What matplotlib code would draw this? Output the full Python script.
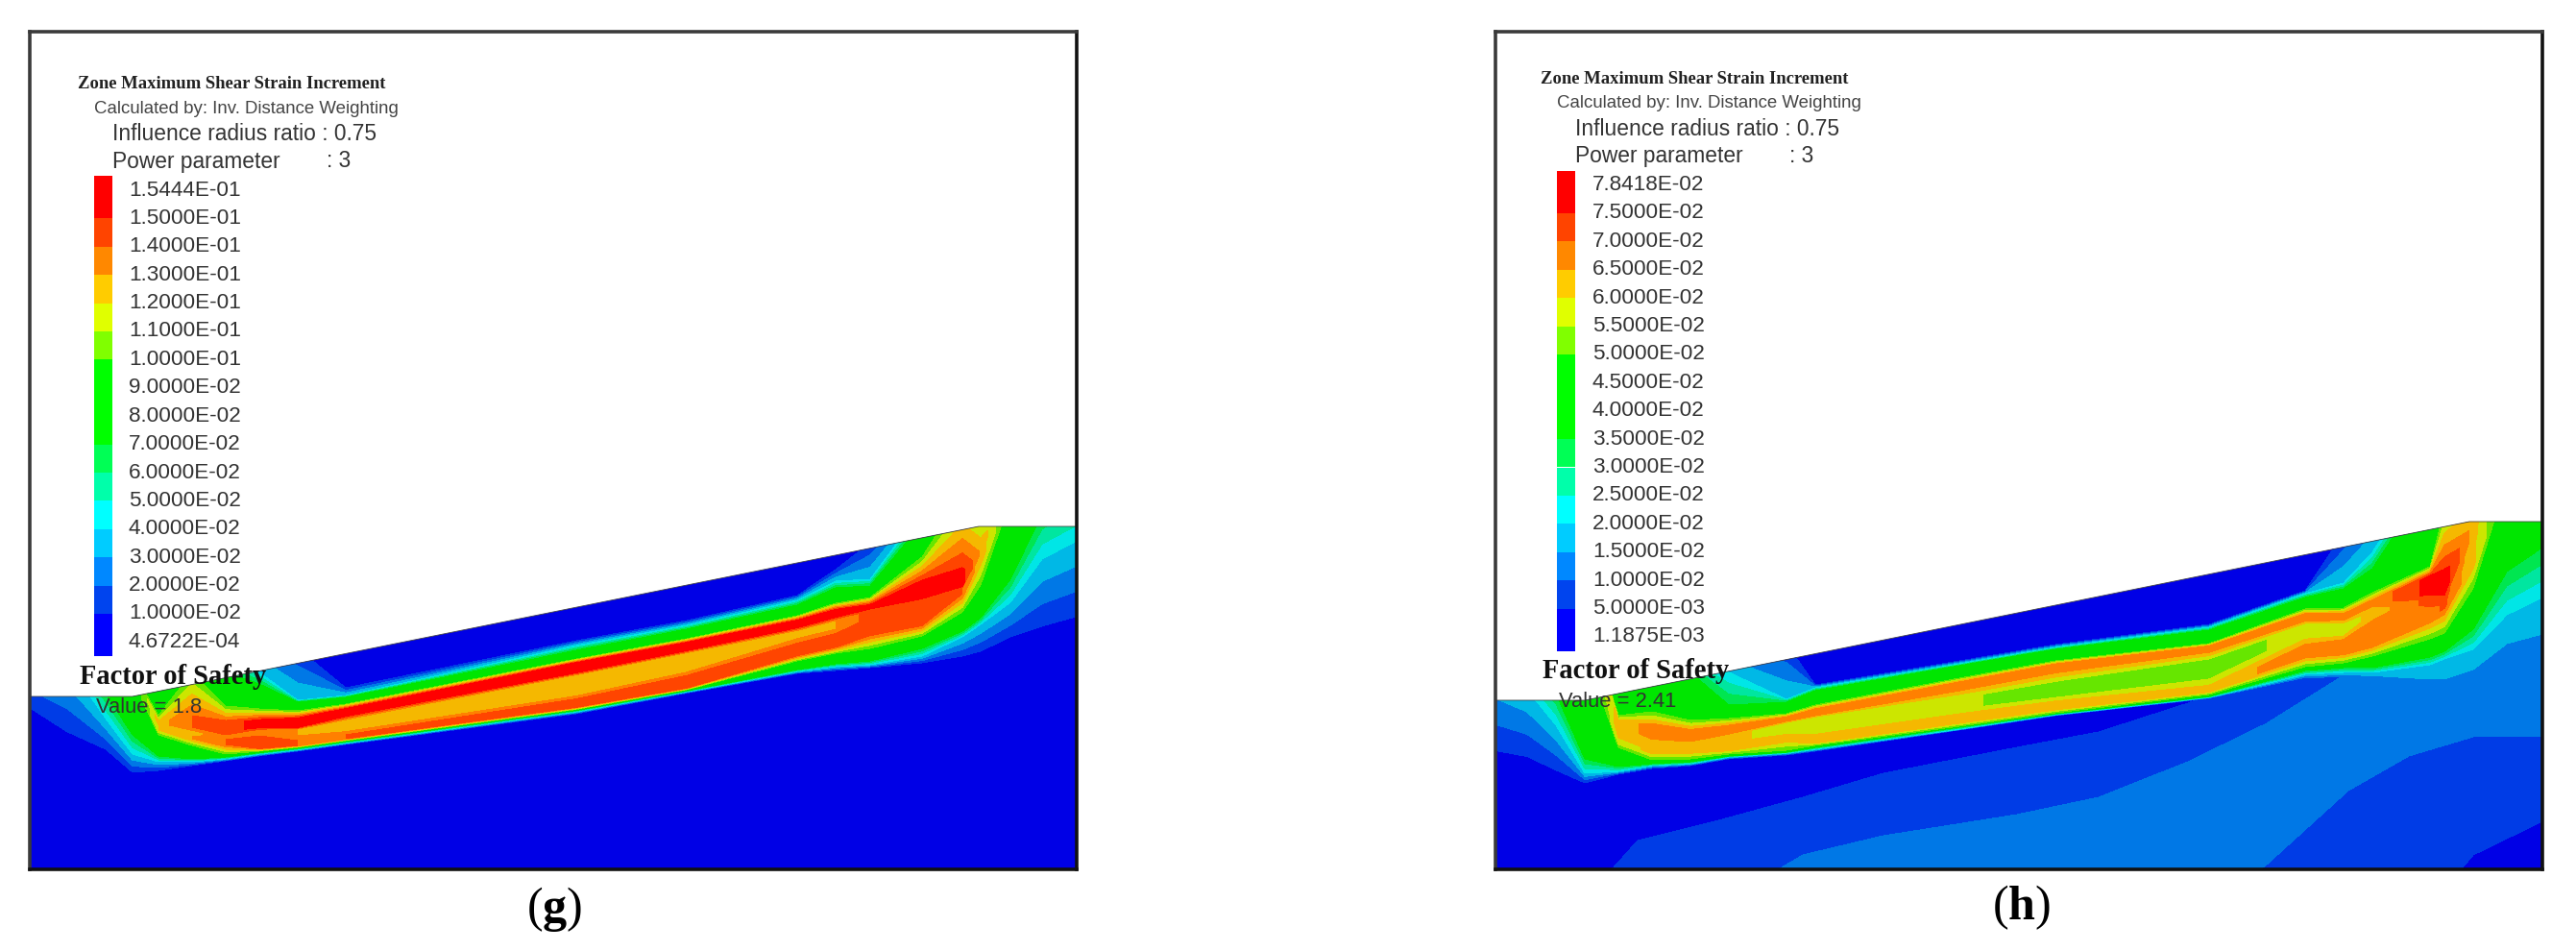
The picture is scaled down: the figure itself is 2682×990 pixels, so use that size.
import numpy as np
import matplotlib
matplotlib.use('Agg')
import matplotlib.pyplot as plt
from matplotlib.patches import Polygon

plt.rcParams['font.family'] = 'Liberation Sans'
plt.rcParams['mathtext.fontset'] = 'custom'
plt.rcParams['mathtext.rm'] = 'Liberation Serif'
plt.rcParams['mathtext.bf'] = 'Liberation Serif:bold'

W, H = 2682, 990

# colours of the strain bands, low to high
field_colors = ['#0000e6', '#003ce6', '#0078e6', '#00b8e6', '#00e6e6', '#00e6a0', '#00e650',
                '#00e600', '#00e600', '#00e600', '#66e600', '#cce600', '#f5b800', '#ff8000',
                '#ff4500', '#ff0000']
bar_colors = ['#0000ff', '#0044ee', '#0088ff', '#00ccff', '#00ffff', '#00ffaa', '#00ff55',
              '#00ff00', '#00ff00', '#00ff00', '#80ff00', '#e0ff00', '#ffcc00', '#ff8800',
              '#ff4400', '#ff0000']

# ---- panel g, strain in units of 1e-2
g_levels = [0.047, 1, 2, 3, 4, 5, 6, 7, 8, 9, 10, 11, 12, 13, 14, 15, 15.44]
g_labels = ['1.5444E-01', '1.5000E-01', '1.4000E-01', '1.3000E-01', '1.2000E-01', '1.1000E-01',
            '1.0000E-01', '9.0000E-02', '8.0000E-02', '7.0000E-02', '6.0000E-02', '5.0000E-02',
            '4.0000E-02', '3.0000E-02', '2.0000E-02', '1.0000E-02', '4.6722E-04']
g_surface_x = [31, 138, 1019, 1121]
g_surface_y = [725, 725, 548, 548]
g_stations = [31, 70, 110, 138, 165, 200, 235, 270, 310, 360, 600, 715, 830, 870, 906, 960, 1002,
              1021, 1052, 1085, 1121]
g_up = [9, 9, 9, 9, 12.5, 14, 14.5, 15.4, 15.4, 15.4, 15.4, 15.4, 15.4, 15.4, 15.4, 15.4, 15.4,
        12.8, 9.5, 9, 9]
g_mid = [9, 9, 9, 9, 12, 12.5, 14, 13.5, 13, 12.5, 12.5, 12.5, 12.6, 13, 14.5, 14.5, 14, 12.5, 9.5, 9, 9]
g_low = [9, 9, 9, 9, 12, 13, 14, 14.5, 14, 14, 14.5, 14.5, 14.5, 14.5, 14.5, 14.5, 14, 12.5, 9.5, 9, 9]
# depth of each strain contour at each station
g_depths = [
    [510, 520, 530, 540, 550, 560, 570, 580, 600, 620, 640, 650, 680, 737],
    [520, 530, 540, 550, 560, 570, 585, 600, 620, 640, 655, 670, 690, 762],
    [540, 560, 600, 660, 665, 668, 672, 675, 680, 685, 690, 722, 748, 780],
    [580, 600, 650, 690, 695, 698, 700, 703, 706, 710, 715, 765, 785, 804],
    [620, 640, 680, 745, 752, 754, 755, 756, 757, 760, 765, 787, 793, 802],
    [640, 660, 680, 700, 745, 757, 762, 765, 767, 769, 776, 790, 793, 797],
    [650, 680, 700, 735, 752, 762, 765, 767, 770, 775, 785, 788, 790, 792],
    [655, 700, 712, 738, 750, 757, 760, 764, 768, 779, 782, 783.5, 785, 787],
    [675, 729, 731, 740, 748, 757, 759, 766, 771, 776, 778, 779, 780.5, 782],
    [716, 724, 726, 733, 738, 745, 750, 760, 765, 769, 771, 772, 773.5, 775],
    [667, 672, 677, 686, 690, 700, 703, 723, 729, 736, 738.5, 739.5, 741, 743],
    [646, 651, 655, 665, 669, 677, 680, 698, 705, 716, 718, 719, 720, 721.5],
    [620, 625, 630, 641, 646, 653, 657, 663, 672, 682, 688, 697, 699, 701],
    [593, 605, 612, 628, 635, 642, 646, 655, 662, 673, 680, 691, 694, 698],
    [565, 603, 610, 622, 630, 633, 635, 645, 650, 660, 675, 688, 692, 695],
    [510, 530, 545, 580, 606, 622, 625, 632, 640, 650, 662, 675, 683, 690],
    [480, 495, 505, 515, 597, 610, 612, 614, 616, 618, 637, 657, 663, 683],
    [470, 485, 500, 530, 572, 576, 578, 580, 582, 584, 609, 643, 650, 678],
    [450, 460, 470, 480, 490, 500, 505, 510, 515, 525, 530, 603, 627, 663],
    [440, 450, 460, 470, 480, 490, 495, 500, 505, 510, 520, 535, 582, 652],
    [430, 440, 450, 460, 470, 480, 485, 490, 495, 498, 500, 515, 563, 642],
]

# ---- panel h
h_levels = [0.119, 0.5, 1, 1.5, 2, 2.5, 3, 3.5, 4, 4.5, 5, 5.5, 6, 6.5, 7, 7.5, 7.84]
h_labels = ['7.8418E-02', '7.5000E-02', '7.0000E-02', '6.5000E-02', '6.0000E-02', '5.5000E-02',
            '5.0000E-02', '4.5000E-02', '4.0000E-02', '3.5000E-02', '3.0000E-02', '2.5000E-02',
            '2.0000E-02', '1.5000E-02', '1.0000E-02', '5.0000E-03', '1.1875E-03']
h_surface_x = [1557, 1650, 2571, 2647]
h_surface_y = [729, 729, 543, 543]
h_stations = [1557, 1590, 1620, 1650, 1685, 1720, 1760, 1800, 1860, 1890, 2040, 2140, 2300, 2400,
              2440, 2470, 2530, 2545, 2575, 2610, 2647]
h_up = [4.5, 4.5, 4.5, 4.5, 6.2, 6.7, 6.9, 6.9, 6.8, 6.9, 6.9, 6.9, 6.8, 6.9, 6.8, 6.6, 7.7, 7.8, 6.3, 4.5, 4.5]
h_mid = [4.5, 4.5, 4.5, 4.5, 6.2, 6.2, 6.5, 6.2, 5.7, 5.7, 5.6, 5.2, 5.2, 5.7, 5.7, 6.2, 7.2, 7.2, 6.2, 4.5, 4.5]
h_low = [4.5, 4.5, 4.5, 4.5, 5.8, 6.1, 6.2, 6.2, 6.3, 6.3, 6.3, 6.3, 6.2, 6.8, 6.8, 6.8, 6.8, 7.1, 6.1, 4.5, 4.5]
h_bottom = [0.49, 0.49, 0.49, 0.49, 0.49, 0.49, 0.49, 0.49, 0.49, 0.49, 0.49, 0.49, 0.49, 0.8, 1.2,
            1.4, 1.5, 1.5, 1.5, 1.5, 1.5]
h_depths = [
    [500, 510, 520, 530, 540, 550, 560, 570, 580, 590, 600, 660, 700, 782],
    [510, 520, 530, 540, 550, 560, 570, 580, 590, 600, 620, 685, 718, 788],
    [520, 530, 540, 550, 560, 570, 580, 590, 600, 610, 650, 722, 755, 802],
    [540, 560, 600, 620, 630, 640, 650, 660, 670, 680, 700, 790, 805, 815],
    [590, 620, 690, 745, 750, 757, 760, 766, 770, 773, 778, 798, 803, 806],
    [610, 650, 680, 741, 755, 768, 772, 778, 781, 784, 791, 795, 797, 800],
    [650, 680, 700, 750, 762, 770, 772, 776, 779, 783, 790, 793, 795, 797],
    [660, 700, 734, 748, 757, 763, 765, 775, 778, 781, 785, 787, 788, 790],
    [670, 728, 731, 743, 747, 750, 753, 761, 768, 770, 781, 783, 784, 786],
    [713, 716, 719, 734, 739, 744, 747, 762, 767, 773, 776, 778, 780, 782],
    [688, 691, 693, 706, 711, 716, 726, 739, 746, 752, 756, 757, 759, 760],
    [671, 674, 676, 688, 692, 697, 712, 724, 732, 738, 742, 743, 744, 745],
    [650, 653, 656, 670, 673, 677, 688, 703, 716, 720, 723, 725, 726, 727],
    [615, 618, 622, 634, 640, 645, 650, 662, 674, 683, 694, 698, 702, 706],
    [555, 607, 613, 633, 640, 644, 650, 660, 668, 680, 690, 695, 700, 704],
    [520, 575, 592, 617, 625, 630, 635, 640, 652, 672, 683, 695, 700, 704],
    [460, 480, 500, 590, 600, 618, 622, 628, 635, 645, 665, 684, 692, 707],
    [455, 470, 500, 530, 600, 617, 622, 625, 628, 632, 659, 678, 686, 707],
    [430, 445, 460, 480, 545, 555, 560, 565, 570, 590, 612, 655, 676, 697],
    [420, 430, 440, 450, 460, 470, 480, 490, 500, 510, 515, 595, 640, 670],
    [410, 420, 430, 440, 450, 460, 470, 480, 490, 495, 500, 570, 622, 660],
]
# slow background strain under the slip band in h
h_base_stations = [1557, 1680, 1705, 1793, 1877, 1961, 2100, 2185, 2278, 2360, 2445, 2508, 2575, 2647]
h_base_values = [0.5, 1, 1.2, 1, 0.5]
h_base_depths = [
    [1000, 1100, 1200, 1300, 1500],
    [903, 1000, 1120, 1250, 1450],
    [875, 980, 1090, 1200, 1400],
    [853, 940, 1050, 1150, 1350],
    [830, 890, 1000, 1100, 1300],
    [805, 870, 960, 1050, 1250],
    [778, 848, 930, 1020, 1220],
    [762, 830, 915, 1000, 1200],
    [732, 793, 880, 960, 1150],
    [700, 753, 830, 900, 1100],
    [680, 700, 760, 823, 1040],
    [670, 680, 735, 787, 970],
    [660, 670, 720, 767, 890],
    [650, 660, 715, 767, 855],
]


def px(n):
    # font size in points for a size in pixels
    return n * 0.72


def panel(frame, surface_x, surface_y, levels, labels, stations, depths, z_rows,
          bar_x, label_x, top_label_y, texts):
    x0, x1, y0, y1 = frame
    ax = fig.add_axes([x0 / W, 1 - y1 / H, (x1 - x0) / W, (y1 - y0) / H])
    ax.set_xlim(x0, x1)
    ax.set_ylim(y1, y0)
    ax.set_xticks([])
    ax.set_yticks([])
    for name, sp in ax.spines.items():
        sp.set_linewidth(2.6)
        sp.set_color('#111111' if name in ('bottom', 'right') else '#3a3a3a')
        sp.set_zorder(10)

    # ground under the slope
    outline = list(zip(surface_x, surface_y)) + [(x1, y1 + 20), (x0, y1 + 20)]
    ground = Polygon(outline, closed=True, transform=ax.transData, fc=field_colors[0], ec='none')
    ax.add_patch(ground)
    ax.plot(surface_x, surface_y, color='#444444', lw=0.6, zorder=4)

    X = np.repeat(np.array(stations)[:, None], np.shape(depths)[1], axis=1)
    cs = ax.contourf(X, np.array(depths), z_rows, levels=levels, colors=field_colors, zorder=3)
    cs.set_clip_path(ground)

    # legend bar, band edges sit on the label centres
    lab_y = [top_label_y + 29.4 * i for i in range(len(labels))]
    for i in range(16):
        top = lab_y[i] - 15 if i == 0 else lab_y[i]
        bottom = lab_y[i + 1] + 15 if i == 15 else lab_y[i + 1]
        ax.bar(bar_x, bottom - top, bottom=top, width=19, color=bar_colors[15 - i], zorder=5)
    for lab, y in zip(labels, lab_y):
        ax.text(label_x, y, lab, fontsize=px(22.5), color='#333333', va='center', zorder=6)

    for (x, y, s, size, fam, weight, col) in texts:
        ax.text(x, y, s, fontsize=px(size), family=fam, weight=weight, color=col,
                va='center', zorder=7, clip_on=False)
    return ax


fig = plt.figure(figsize=(W / 100, H / 100), dpi=100, facecolor='white')

SANS = 'Liberation Sans'
SERIF = 'Liberation Serif'

# panel g
z_g = np.array([[0.99, 4, 7, 10, u, u, m, m, l, l, 10, 7, 4, 0.99]
                for u, m, l in zip(g_up, g_mid, g_low)])
panel((31, 1121, 33, 905), g_surface_x, g_surface_y, g_levels, g_labels, g_stations, g_depths, z_g,
      107.5, 134, 198,
      [(81, 88, 'Zone Maximum Shear Strain Increment', 18.7, SERIF, 'bold', '#222222'),
       (98, 113, 'Calculated by: Inv. Distance Weighting', 18.7, SANS, 'normal', '#444444'),
       (117, 140, 'Influence radius ratio : 0.75', 22.8, SANS, 'normal', '#333333'),
       (117, 168, 'Power parameter', 22.8, SANS, 'normal', '#333333'),
       (340, 168, ': 3', 22.8, SANS, 'normal', '#333333'),
       (83, 705, 'Factor of Safety', 28.5, SERIF, 'bold', '#111111'),
       (99.5, 737, 'Value = 1.8', 22, SANS, 'normal', '#333333')])

# panel h, with the background strain drawn before the slip band
z_h = np.array([[0.49, 2, 3.5, 5, u, u, m, m, l, l, 5, 3.5, 2, b]
                for u, m, l, b in zip(h_up, h_mid, h_low, h_bottom)])
ax_h = panel((1557, 2647, 33, 905), h_surface_x, h_surface_y, h_levels, h_labels, h_stations, h_depths, z_h,
             1631, 1658, 192.5,
             [(1604, 82.5, 'Zone Maximum Shear Strain Increment', 18.7, SERIF, 'bold', '#222222'),
              (1621, 107.5, 'Calculated by: Inv. Distance Weighting', 18.7, SANS, 'normal', '#444444'),
              (1640, 134.5, 'Influence radius ratio : 0.75', 22.8, SANS, 'normal', '#333333'),
              (1640, 162.5, 'Power parameter', 22.8, SANS, 'normal', '#333333'),
              (1863, 162.5, ': 3', 22.8, SANS, 'normal', '#333333'),
              (1606, 698, 'Factor of Safety', 28.5, SERIF, 'bold', '#111111'),
              (1623.5, 731, 'Value = 2.41', 22, SANS, 'normal', '#333333')])
base_X = np.repeat(np.array(h_base_stations)[:, None], len(h_base_values), axis=1)
base_Z = np.tile(h_base_values, (len(h_base_stations), 1))
base = ax_h.contourf(base_X, np.array(h_base_depths), base_Z, levels=h_levels, colors=field_colors, zorder=2)
base.set_clip_path(ax_h.patches[0])

fig.text(577 / W, 1 - 947 / H, r'($\mathbf{g}$)', fontsize=px(50), family=SERIF, ha='center', va='center')
fig.text(2104 / W, 1 - 945 / H, r'($\mathbf{h}$)', fontsize=px(50), family=SERIF, ha='center', va='center')

fig.savefig('out.png', dpi=100)
